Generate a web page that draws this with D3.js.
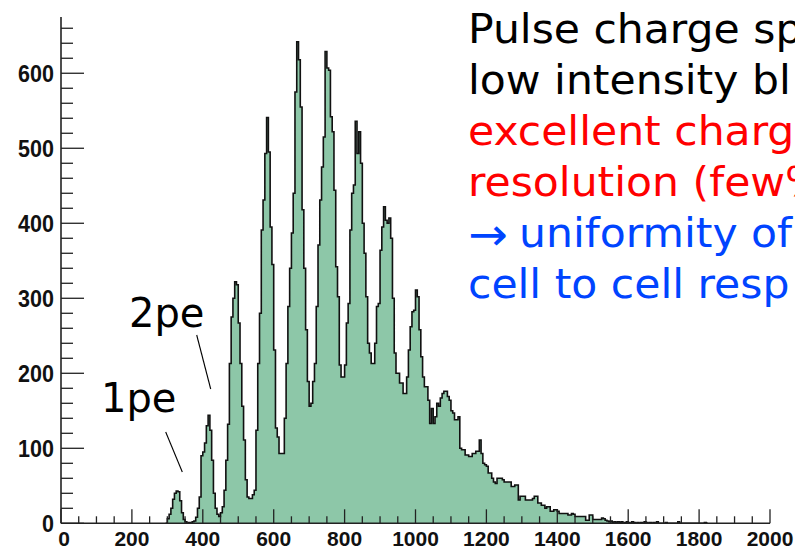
<!DOCTYPE html>
<html>
<head>
<meta charset="utf-8">
<script src="https://cdn.jsdelivr.net/npm/d3@7"></script>
<style>
  html, body { margin: 0; padding: 0; background: #fff; overflow: hidden; }
  svg { display: block; }
</style>
</head>
<body>
<svg id="chart" width="795" height="549"></svg>
<script>
// ---------------- DATA ----------------
const binStart = 295;      // lower edge of first bin (charge units)
const binWidth = 5;        // bin width
// counts per bin, 10 bins (50 charge units) per row; row comment = lower edge of first bin
const counts = [
  0, 6, 12, 20, 32, 40, 43, 42, 30, 14,          // 295
  5, 2, 0, 1, 0, 2, 3, 8, 20, 35,                // 345
  90, 95, 107, 130, 144, 124, 84, 40, 20, 12,    // 395
  9, 14, 22, 44, 84, 132, 213, 275, 300, 322,    // 445
  318, 267, 213, 156, 111, 58, 35, 33, 33, 38,   // 495
  44, 124, 213, 280, 391, 431, 493, 541, 495, 395, // 545
  345, 231, 127, 115, 93, 93, 93, 140, 213, 289, // 595
  340, 387, 440, 575, 642, 618, 555, 418, 340, 258, // 645
  189, 156, 160, 189, 213, 289, 371, 431, 475, 515, // 695
  629, 607, 604, 542, 522, 444, 342, 302, 211, 195, // 745
  195, 211, 267, 293, 391, 440, 451, 536, 493, 522, // 795
  480, 400, 360, 302, 240, 227, 213, 213, 240, 289, // 845
  293, 364, 395, 422, 404, 400, 407, 380, 300, 227, // 895
  200, 200, 187, 187, 173, 173, 195, 231, 262, 282, // 945
  284, 311, 302, 258, 222, 195, 182, 182, 164, 133, // 995
  153, 133, 142, 160, 156, 167, 173, 176, 176, 169, // 1045
  164, 150, 147, 138, 138, 142, 100, 98, 98, 91,    // 1095
  91, 89, 89, 93, 93, 96, 96, 111, 93, 80,          // 1145
  78, 76, 67, 67, 60, 55, 53, 60, 60, 60,           // 1195
  58, 55, 55, 55, 55, 49, 49, 51, 51, 31,           // 1245
  36, 36, 36, 31, 31, 31, 31, 33, 36, 36,           // 1295
  27, 27, 24, 24, 20, 22, 22, 16, 16, 18,           // 1345
  18, 16, 13, 13, 13, 13, 13, 11, 11, 13,           // 1395
  12, 9, 9, 9, 9, 9, 9, 4, 4, 11,                   // 1445
  11, 5, 5, 5, 5, 5, 7, 6, 4, 3,                    // 1495
  2, 3, 1, 2, 1, 2, 1, 2, 0, 1,                     // 1545
  2, 1, 0, 2, 1, 0, 1, 0, 1, 0,                     // 1595
  2, 1, 0, 1, 0, 1, 0, 2, 0, 0,                     // 1645
  0, 0, 1, 0, 0, 0, 0, 0, 0, 2,                     // 1695
  0, 0, 0, 0, 0, 0, 0, 0, 0, 0,                     // 1745
  0, 0, 0, 0, 1, 0                                  // 1795
];
const xDomain = [0, 2000];
const yDomain = [0, 675];
const xTickLabels = [0, 200, 400, 600, 800, 1000, 1200, 1400, 1600, 1800, 2000];
const yTickLabels = [0, 100, 200, 300, 400, 500, 600];
// text as visible in the reference (cut by the right edge of the picture)
const textLines = [
  {t: "Pulse charge sp", c: "#000000"},
  {t: "low intensity bl", c: "#000000"},
  {t: "excellent charg", c: "#ff0000"},
  {t: "resolution (few%", c: "#ff0000"},
  {t: "uniformity of", c: "#0044ff", arrow: true},
  {t: "cell to cell resp", c: "#0044ff"}
];
const annotations = [
  {label: "2pe", tx: 129, ty: 327, x1: 196.7, y1: 335, x2: 210.7, y2: 389},
  {label: "1pe", tx: 101, ty: 412, x1: 165.7, y1: 432, x2: 182.3, y2: 472}
];

// ---------------- DRAW ----------------
const svg = d3.select("#chart");
const x = d3.scaleLinear().domain(xDomain).range([61, 770]);
const y = d3.scaleLinear().domain(yDomain).range([523.3, 17]);

const pts = counts.map((v, i) => ({x: binStart + i * binWidth, v}));
pts.push({x: binStart + counts.length * binWidth, v: 0});

const area = d3.area()
  .x(d => x(d.x)).y0(y(0)).y1(d => y(d.v))
  .curve(d3.curveStepAfter);
const line = d3.line()
  .x(d => x(d.x)).y(d => y(d.v))
  .curve(d3.curveStepAfter);

svg.append("path").datum(pts)
  .attr("d", area)
  .attr("fill", "#8dc7a8");
svg.append("path").datum([{x: binStart, v: 0}].concat(pts))
  .attr("d", line)
  .attr("fill", "none")
  .attr("stroke", "#111")
  .attr("stroke-width", 1.6);

// axes (ROOT style: ticks inside)
const axisColor = "#222";
const gAx = svg.append("g");
gAx.append("line").attr("x1", x(0)).attr("x2", x(0)).attr("y1", y(yDomain[1])).attr("y2", y(0))
  .attr("stroke", axisColor).attr("stroke-width", 1.6);
gAx.append("line").attr("x1", x(0)).attr("x2", x(xDomain[1])).attr("y1", y(0)).attr("y2", y(0))
  .attr("stroke", axisColor).attr("stroke-width", 1.6);

// y ticks
const yMinor = d3.range(0, yDomain[1], 20).filter(v => v % 100 !== 0);
gAx.selectAll(".ymin").data(yMinor).enter().append("line")
  .attr("x1", x(0)).attr("x2", x(0) + 12)
  .attr("y1", d => y(d)).attr("y2", d => y(d))
  .attr("stroke", axisColor).attr("stroke-width", 1.3);
gAx.selectAll(".ymaj").data(yTickLabels).enter().append("line")
  .attr("x1", x(0)).attr("x2", x(0) + 23)
  .attr("y1", d => y(d)).attr("y2", d => y(d))
  .attr("stroke", axisColor).attr("stroke-width", 1.3);
gAx.selectAll(".ylab").data(yTickLabels).enter().append("text")
  .attr("transform", d => `translate(54,${y(d) + 8.5}) scale(1,1.13)`)
  .attr("text-anchor", "end")
  .attr("font-family", "'Liberation Sans', Arial, sans-serif")
  .attr("font-weight", "bold").attr("font-size", 21.5)
  .attr("fill", "#111")
  .text(d => d);

// x ticks
const xMinor = d3.range(0, xDomain[1], 50).filter(v => v % 200 !== 0);
gAx.selectAll(".xmin").data(xMinor).enter().append("line")
  .attr("x1", d => x(d)).attr("x2", d => x(d))
  .attr("y1", y(0)).attr("y2", y(0) - 7)
  .attr("stroke", axisColor).attr("stroke-width", 1.3);
gAx.selectAll(".xmaj").data(xTickLabels).enter().append("line")
  .attr("x1", d => x(d)).attr("x2", d => x(d))
  .attr("y1", y(0)).attr("y2", y(0) - 14)
  .attr("stroke", axisColor).attr("stroke-width", 1.3);
gAx.selectAll(".xlab").data(xTickLabels).enter().append("text")
  .attr("x", d => x(d) + (d === 0 ? 3 : 0)).attr("y", 546)
  .attr("text-anchor", "middle")
  .attr("font-family", "'Liberation Sans', Arial, sans-serif")
  .attr("font-weight", "bold").attr("font-size", 21)
  .attr("fill", "#111")
  .text(d => d);

// annotations
annotations.forEach(a => {
  svg.append("text").attr("x", a.tx).attr("y", a.ty)
    .attr("font-family", "'DejaVu Sans', sans-serif").attr("font-size", 40)
    .attr("fill", "#000").text(a.label);
  svg.append("line").attr("x1", a.x1).attr("y1", a.y1).attr("x2", a.x2).attr("y2", a.y2)
    .attr("stroke", "#000").attr("stroke-width", 1.1);
});

// right-hand text block (slightly wide lettering, as in the reference)
const tx0 = 468, lineBase = 43, lineGap = 51;
textLines.forEach((l, i) => {
  const g = svg.append("g")
    .attr("transform", `translate(${tx0},${lineBase + i * lineGap}) scale(1.05,1)`);
  const t = g.append("text")
    .attr("x", 0).attr("y", 0)
    .attr("font-family", "'DejaVu Sans', sans-serif").attr("font-size", 40.5)
    .attr("fill", l.c);
  if (l.arrow) {
    t.append("tspan").attr("font-size", 45).attr("dy", 3).text("\u2192");
    t.append("tspan").attr("dy", -3).attr("dx", 11).text(l.t);
  } else {
    t.text(l.t);
  }
});
</script>
</body>
</html>
